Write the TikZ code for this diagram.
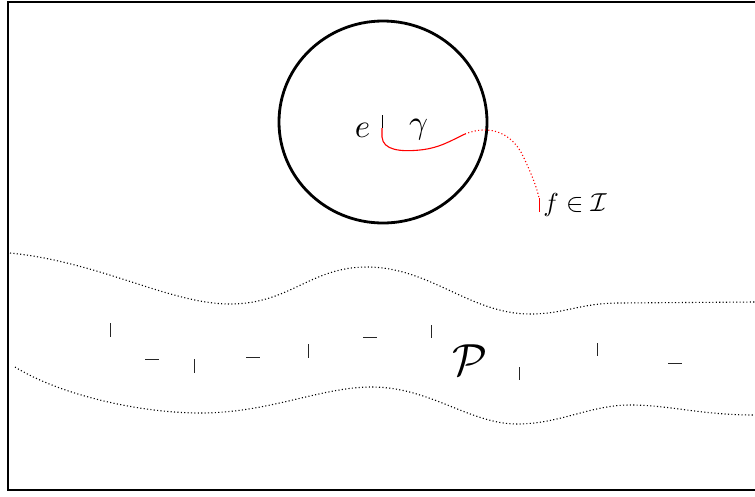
\documentclass[tikz,border=0pt]{standalone}
\usepackage{amssymb}
\begin{document}
\begin{tikzpicture}[x=1pt,y=-1pt,
  lbl/.style={inner sep=0pt},
  dotcurve/.style={line width=1.1pt,dash pattern=on 1.1pt off 2.3pt},
  tick/.style={line width=0.9pt,black!85}]
\useasboundingbox (0,0) rectangle (755,496);
\clip (0,0) rectangle (755,496);
\draw[line width=2.4pt] (8,2) rectangle (780,490);
% circle
\draw[line width=2.8pt] (383,122) ellipse [x radius=104, y radius=101];
% labels
\node[lbl,scale=3.3] (e) at (362.5,130) {$e$};
\node[lbl,scale=3.3] (g) at (418.5,130) {$\gamma$};
\node[lbl,scale=2.6] (f) at (575,205) {$f\in\mathcal{I}$};
\node[lbl,scale=4.5] (P) at (470,360) {$\mathcal{P}$};
% curve gamma
\coordinate (s) at (382,128);
\coordinate (m) at (465,134);
\coordinate (t) at (539,198);
\draw[line width=0.8pt] (382,115) -- (s);
\draw[red,line width=1.1pt] (s) -- (382,137) .. controls (383,150) and (400,152) .. (420,150) .. controls (440,148) and (452,140) .. (m);
\draw[red,dotcurve] (m) .. controls (490,124) and (512,133) .. (523,156) .. controls (532,175) and (537,188) .. (t);
\draw[red,line width=1pt] (t) -- (539,212);
% dotted boundaries
\draw[dotcurve] (10,253) .. controls (100,262) and (170,304) .. (230,304)
  .. controls (290,304) and (310,267) .. (367,267)
  .. controls (430,267) and (470,314) .. (530,314)
  .. controls (565,314) and (580,303) .. (620,303) -- (755,302);
\draw[dotcurve] (15,367) .. controls (60,395) and (140,413) .. (200,413)
  .. controls (270,413) and (320,387) .. (372,387)
  .. controls (430,387) and (470,424) .. (517,424)
  .. controls (560,424) and (590,405) .. (630,405)
  .. controls (670,405) and (700,415) .. (755,415);
% ticks
\draw[tick] (110,323) -- (110,337);
\draw[tick] (145,359) -- (159,359);
\draw[tick] (194,359) -- (194,373);
\draw[tick] (246,357) -- (260,357);
\draw[tick] (308,344) -- (308,358);
\draw[tick] (363,337) -- (377,337);
\draw[tick] (431,325) -- (431,338);
\draw[tick] (519,367) -- (519,380);
\draw[tick] (597,343) -- (597,356);
\draw[tick] (668,363) -- (682,363);
\end{tikzpicture}
\end{document}
